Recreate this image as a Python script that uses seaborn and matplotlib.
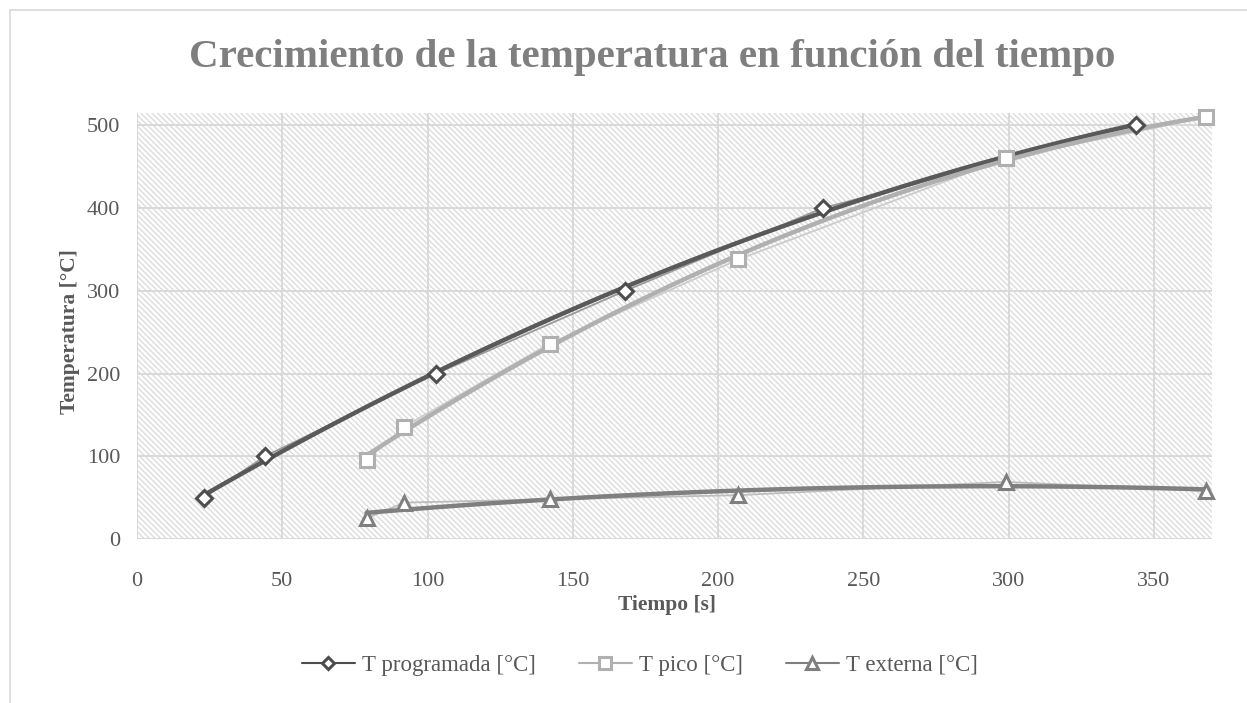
import numpy as np
import pandas as pd
import matplotlib
matplotlib.use("Agg")
import matplotlib.pyplot as plt
from matplotlib.lines import Line2D
from matplotlib.patches import Rectangle
import seaborn as sns

# data
prog_t = [23, 44, 103, 168, 236, 344]
prog_T = [50, 100, 200, 300, 400, 500]
pico_t = [79, 92, 142, 207, 299, 368]
pico_T = [95, 136, 236, 338, 460, 510]
ext_t = [79, 92, 142, 207, 299, 368]
ext_T = [25, 44, 48, 53, 69, 58]

labels = ["T programada [°C]", "T pico [°C]", "T externa [°C]"]
x_ticks = [0, 50, 100, 150, 200, 250, 300, 350]
y_ticks = [0, 100, 200, 300, 400, 500]

sns.set_theme(style="white")
plt.rcParams["font.family"] = ["Liberation Serif", "DejaVu Serif"]
plt.rcParams["hatch.linewidth"] = 1.0
plt.rcParams["hatch.color"] = "#dcdcdc"

txt = "#595959"
series = [
    (prog_t, prog_T, "D", 8, "#4d4d4d", "#9a9a9a", "#595959"),
    (pico_t, pico_T, "s", 10, "#b0b0b0", "#cccccc", "#b0b0b0"),
    (ext_t, ext_T, "^", 10, "#7f7f7f", "#bdbdbd", "#7f7f7f"),
]

fig = plt.figure(figsize=(12.47, 7.03), dpi=100)
ax = fig.add_axes([137 / 1247, 1 - 539 / 703, (1212 - 137) / 1247, (539 - 113) / 703])

# hatched plot area
ax.add_patch(Rectangle((0, 0), 1, 1, transform=ax.transAxes, facecolor="white",
                       edgecolor="#dcdcdc", hatch="\\" * 6, lw=0, zorder=0))

handles = []
for (t, T, mk, ms, edge, thin, trend), lab in zip(series, labels):
    df = pd.DataFrame({"t": t, "T": T})
    sns.lineplot(data=df, x="t", y="T", ax=ax, color=thin, lw=1.3, sort=True,
                 zorder=3, legend=False)
    sns.regplot(data=df, x="t", y="T", ax=ax, order=2, scatter=False, ci=None,
                truncate=True, line_kws=dict(color=trend, lw=3.2, zorder=4))
    ax.plot(t, T, ls="none", marker=mk, ms=ms, mfc="white", mec=edge, mew=2.2,
            zorder=5, clip_on=False)
    handles.append(Line2D([], [], color=edge, lw=1.5, marker=mk, ms=ms * 0.8,
                          mfc="white", mec=edge, mew=2.2, label=lab))

ax.set_xlim(0, 370)
ax.set_ylim(0, 515)
ax.set_xticks(x_ticks)
ax.set_yticks(y_ticks)
ax.grid(True, color="#d9d9d9", lw=1.4, zorder=1)
ax.set_axisbelow(True)
for s in ax.spines.values():
    s.set_visible(False)
ax.axhline(0, color="#d9d9d9", lw=1.4, zorder=1)
ax.tick_params(axis="both", length=0, labelsize=16, colors=txt)
ax.tick_params(axis="x", pad=24)
ax.tick_params(axis="y", pad=12)

ax.set_xlabel("Tiempo [s]", fontsize=15.5, fontweight="bold", color=txt, va="center")
ax.xaxis.set_label_coords(0.493, -0.155)
ax.set_ylabel("Temperatura [°C]", fontsize=15.5, fontweight="bold", color=txt,
              va="center", ha="center")
ax.yaxis.set_label_coords(-0.0625, 0.486)

fig.text(0.523, 1 - 58 / 703, "Crecimiento de la temperatura en función del tiempo",
         ha="center", va="center", fontsize=29.5, fontweight="bold", color="#7f7f7f")

fig.legend(handles=handles, loc="center", bbox_to_anchor=(0.513, 1 - 665 / 703),
           ncol=3, frameon=False, fontsize=16.5, labelcolor=txt, handlelength=2.3,
           columnspacing=1.9, handletextpad=0.3)

# chart border (top and left visible in the reference)
fig.add_artist(Line2D([10 / 1247, 1], [1 - 10 / 703] * 2, color="#d9d9d9", lw=1.2))
fig.add_artist(Line2D([10 / 1247] * 2, [0, 1 - 10 / 703], color="#d9d9d9", lw=1.2))

fig.savefig("out.png", dpi=100)
